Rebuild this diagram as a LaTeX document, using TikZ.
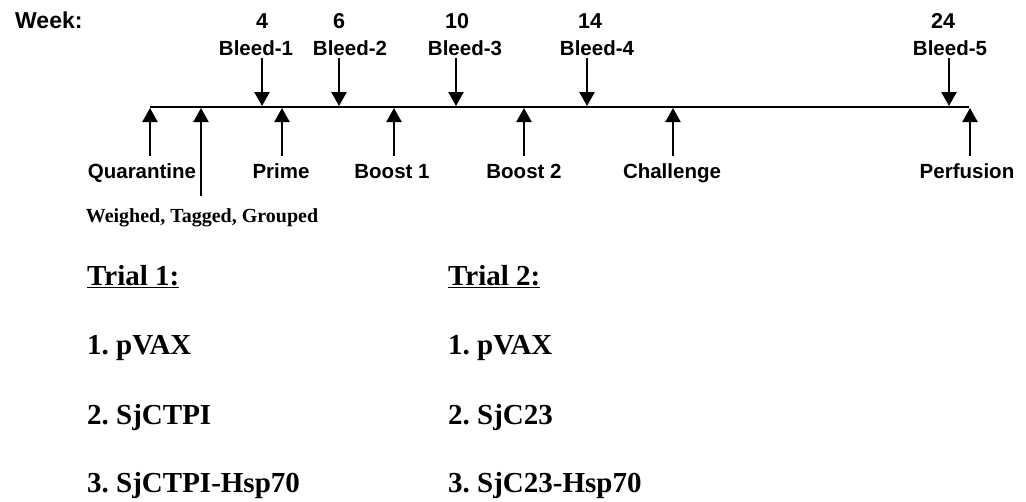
\documentclass[tikz,border=0pt]{standalone}
\usepackage{fontspec}
\setmainfont{Liberation Serif}
\setsansfont{Liberation Sans}
\usetikzlibrary{arrows.meta}
\frenchspacing
\begin{document}
\begin{tikzpicture}[x=1pt,y=-1pt,
  lab/.style={font=\sffamily\bfseries\fontsize{20.5}{22}\selectfont, inner sep=0pt, anchor=base},
  wk/.style={font=\sffamily\bfseries\fontsize{21.5}{23}\selectfont, inner sep=0pt, anchor=base},
  ser/.style={font=\rmfamily\bfseries\fontsize{20}{22}\selectfont, inner sep=0pt, anchor=base},
  big/.style={font=\rmfamily\bfseries\fontsize{29}{31}\selectfont, inner sep=0pt, anchor=base west},
  arr/.style={line width=2.2pt, -{Triangle[width=15pt,length=14pt]}}]
\useasboundingbox (0,0) rectangle (1026,501);
% timeline
\coordinate (L) at (150,107);
\coordinate (R) at (969,107);
\draw[line width=2.2pt] (L) -- (R);
% header
\node[wk, anchor=base west, font=\sffamily\bfseries\fontsize{23}{24}\selectfont] (week) at (15,28) {Week:};
\node[wk] (w4) at (262,28) {4};
\node[wk] (w6) at (339,28) {6};
\node[wk] (w10) at (457,28) {10};
\node[wk] (w14) at (590,28) {14};
\node[wk] (w24) at (943,28) {24};
% bleeds
\node[lab] (b1) at (256,55) {Bleed-1};
\node[lab] (b2) at (350,55) {Bleed-2};
\node[lab] (b3) at (465,55) {Bleed-3};
\node[lab] (b4) at (597,55) {Bleed-4};
\node[lab] (b5) at (950,55) {Bleed-5};
\foreach \n/\x in {1/262,2/339,3/456,4/587,5/949}{
  \coordinate (bs\n) at (\x,58);
  \coordinate (bt\n) at (\x,106);
  \draw[arr] (bs\n) -- (bt\n);
}
% bottom events
\node[lab] (q) at (142,178) {Quarantine};
\node[lab] (p) at (281,178) {Prime};
\node[lab] (bo1) at (392,178) {Boost 1};
\node[lab] (bo2) at (524,178) {Boost 2};
\node[lab] (ch) at (672,178) {Challenge};
\node[lab] (pe) at (967,178) {Perfusion};
\node[ser] (wtg) at (202,222) {Weighed, Tagged, Grouped};
\foreach \n/\x/\y in {q/150/156,w/201/196,p/282/156,b1/394/156,b2/524/156,c/673/156,pf/970/156}{
  \coordinate (us\n) at (\x,\y);
  \coordinate (ut\n) at (\x,108);
  \draw[arr] (us\n) -- (ut\n);
}
% trials
\node[big] (t1) at (87,285) {\underline{Trial 1:}};
\node[big] (t1a) at (87,354) {1. pVAX};
\node[big] (t1b) at (87,424) {2. SjCTPI};
\node[big] (t1c) at (87,492) {3. SjCTPI-Hsp70};
\node[big] (t2) at (448,285) {\underline{Trial 2:}};
\node[big] (t2a) at (448,354) {1. pVAX};
\node[big] (t2b) at (448,424) {2. SjC23};
\node[big] (t2c) at (448,492) {3. SjC23-Hsp70};
\end{tikzpicture}
\end{document}
